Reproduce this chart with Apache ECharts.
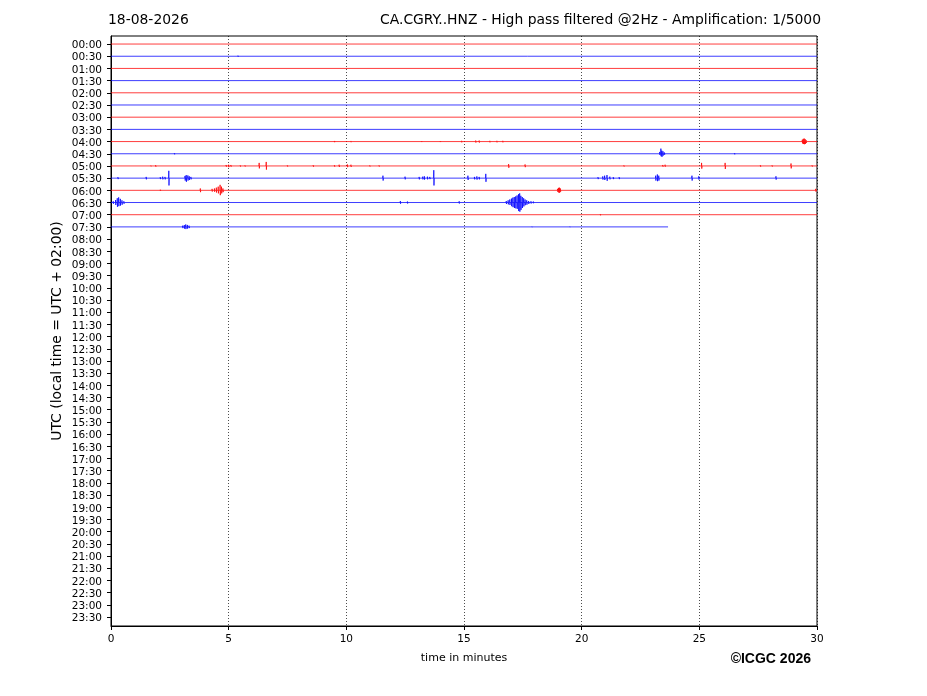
<!DOCTYPE html>
<html>
<head>
<meta charset="utf-8">
<script src="https://cdn.jsdelivr.net/npm/echarts@6/dist/echarts.min.js"></script>
<style>html,body{margin:0;padding:0;background:#fff}#c{width:927px;height:696px}</style>
</head>
<body>
<div id="c"></div>
<script>
const rowLabels = ['00:00','00:30','01:00','01:30','02:00','02:30','03:00','03:30','04:00','04:30','05:00','05:30','06:00','06:30','07:00','07:30','08:00','08:30','09:00','09:30','10:00','10:30','11:00','11:30','12:00','12:30','13:00','13:30','14:00','14:30','15:00','15:30','16:00','16:30','17:00','17:30','18:00','18:30','19:00','19:30','20:00','20:30','21:00','21:30','22:00','22:30','23:00','23:30'];
const xTicks = [0, 5, 10, 15, 20, 25, 30];
// rows that carry a trace (index into rowLabels) and where each trace ends (minutes)
const traceRows = [0,1,2,3,4,5,6,7,8,9,10,11,12,13,14,15];
const traceEnds = [30,30,30,30,30,30,30,30,30,30,30,30,30,30,30,23.67];
// spikes per row: [minute, amplitude up, amplitude down] in trace-height units (1 = one row)
const spikes0000 = [];
const spikes0030 = [[5.4,0.05,0.05]];
const spikes0100 = [];
const spikes0130 = [];
const spikes0200 = [];
const spikes0230 = [];
const spikes0300 = [];
const spikes0330 = [];
const spikes0400 = [[9.5,0.05,0.05],[10.2,0.05,0.05],[13.2,0.04,0.04],[14.0,0.04,0.04],[14.9,0.06,0.06],[15.5,0.08,0.08],[15.65,0.08,0.08],[16.1,0.06,0.06],[16.4,0.06,0.06],[16.65,0.06,0.06],[29.38,0.15,0.15],[29.42,0.22,0.2],[29.46,0.25,0.22],[29.5,0.2,0.2],[29.54,0.12,0.12]];
const spikes0430 = [[2.7,0.05,0.05],[23.32,0.15,0.1],[23.37,0.42,0.2],[23.41,0.25,0.25],[23.46,0.2,0.15],[23.52,0.1,0.08],[26.5,0.05,0.05]];
const spikes0500 = [[1.7,0.04,0.04],[1.9,0.06,0.06],[4.9,0.08,0.06],[5.0,0.1,0.1],[5.1,0.08,0.06],[5.5,0.05,0.05],[5.7,0.05,0.05],[6.3,0.25,0.2],[6.6,0.33,0.3],[7.5,0.05,0.05],[8.6,0.06,0.06],[9.5,0.06,0.06],[9.7,0.1,0.08],[10.05,0.12,0.1],[10.2,0.1,0.08],[11.0,0.05,0.05],[11.4,0.05,0.05],[16.9,0.15,0.15],[17.6,0.12,0.1],[21.8,0.05,0.05],[23.45,0.08,0.06],[23.55,0.1,0.06],[25.1,0.25,0.22],[26.1,0.25,0.25],[27.6,0.06,0.06],[28.1,0.05,0.05],[28.9,0.2,0.2],[29.8,0.05,0.05]];
const spikes0530 = [[0.3,0.08,0.08],[1.5,0.1,0.1],[2.1,0.08,0.08],[2.2,0.12,0.1],[2.3,0.1,0.1],[2.46,0.6,0.6],[3.15,0.18,0.2],[3.2,0.25,0.3],[3.27,0.22,0.2],[3.33,0.15,0.15],[3.4,0.1,0.1],[11.56,0.2,0.2],[12.5,0.12,0.1],[13.1,0.1,0.1],[13.25,0.12,0.1],[13.32,0.15,0.12],[13.45,0.12,0.1],[13.55,0.1,0.08],[13.72,0.65,0.6],[15.17,0.2,0.15],[15.45,0.1,0.1],[15.55,0.14,0.12],[15.65,0.1,0.1],[15.93,0.35,0.3],[20.7,0.08,0.08],[20.9,0.14,0.12],[20.98,0.2,0.15],[21.08,0.25,0.22],[21.2,0.12,0.1],[21.35,0.08,0.08],[21.6,0.08,0.08],[23.15,0.2,0.2],[23.22,0.3,0.25],[23.28,0.2,0.2],[24.69,0.2,0.2],[24.98,0.15,0.12],[28.26,0.15,0.12]];
const spikes0600 = [[2.1,0.05,0.05],[3.8,0.15,0.15],[4.3,0.12,0.1],[4.4,0.15,0.12],[4.48,0.22,0.18],[4.56,0.3,0.25],[4.64,0.45,0.4],[4.7,0.3,0.25],[4.76,0.15,0.15],[18.98,0.12,0.12],[19.02,0.2,0.18],[19.06,0.22,0.2],[19.1,0.15,0.12],[29.95,0.12,0.1]];
const spikes0630 = [[0.1,0.1,0.1],[0.2,0.2,0.2],[0.27,0.35,0.35],[0.33,0.42,0.3],[0.4,0.3,0.25],[0.47,0.18,0.18],[0.55,0.1,0.1],[12.3,0.12,0.1],[12.6,0.08,0.08],[14.8,0.1,0.08],[16.8,0.12,0.12],[16.88,0.18,0.15],[16.95,0.25,0.2],[17.02,0.32,0.3],[17.08,0.4,0.38],[17.14,0.45,0.45],[17.2,0.5,0.48],[17.26,0.58,0.52],[17.32,0.68,0.7],[17.37,0.75,0.75],[17.42,0.55,0.6],[17.48,0.45,0.45],[17.54,0.35,0.32],[17.6,0.25,0.22],[17.67,0.18,0.18],[17.75,0.12,0.12],[17.85,0.1,0.08],[17.95,0.08,0.06]];
const spikes0700 = [[20.8,0.05,0.05]];
const spikes0730 = [[3.05,0.1,0.1],[3.12,0.15,0.14],[3.18,0.2,0.18],[3.25,0.16,0.14],[3.32,0.1,0.1],[17.9,0.03,0.03],[19.5,0.03,0.03]];
const traceSpikes = [spikes0000,spikes0030,spikes0100,spikes0130,spikes0200,spikes0230,spikes0300,spikes0330,spikes0400,spikes0430,spikes0500,spikes0530,spikes0600,spikes0630,spikes0700,spikes0730];

function buildTrace(row, end, sp) {
  const d = [[0, row]];
  sp.forEach(function (s) {
    const t = s[0];
    d.push([t - 0.012, row]);
    d.push([t - 0.004, row - s[1]]);
    d.push([t + 0.004, row + s[2]]);
    d.push([t + 0.012, row]);
  });
  d.push([end, row]);
  return d;
}
const traces = traceRows.map(function (row, i) { return buildTrace(row, traceEnds[i], traceSpikes[i]); });
const traceColors = ['#ff0000', '#0000ff'];

const chart = echarts.init(document.getElementById('c'), null, { renderer: 'canvas' });
const yVals = rowLabels.map(function (_, i) { return i; });
chart.setOption({
  backgroundColor: '#ffffff',
  animation: false,
  textStyle: { fontFamily: 'DejaVu Sans' },
  grid: { left: 111, right: 110, top: 36, bottom: 70, show: true, borderColor: '#000', borderWidth: 1, backgroundColor: 'transparent' },
  xAxis: {
    type: 'value', min: 0, max: 30, interval: 5,
    name: 'time in minutes', nameLocation: 'middle', nameGap: 27,
    nameTextStyle: { fontSize: 11, color: '#000', fontFamily: 'DejaVu Sans' },
    axisLine: { show: true, onZero: false, lineStyle: { color: '#000', width: 1 } },
    axisTick: { show: true, length: 4, inside: false, lineStyle: { color: '#000' } },
    axisLabel: { color: '#000', fontSize: 10.5, margin: 8, fontFamily: 'DejaVu Sans',
      formatter: function (v) { return xTicks.indexOf(v) >= 0 ? String(v) : ''; } },
    splitLine: { show: true, lineStyle: { color: '#000', type: [1, 2], width: 0.7 } }
  },
  yAxis: {
    type: 'value', inverse: true, min: -0.66, max: 47.74,
    axisLine: { show: true, onZero: false, lineStyle: { color: '#000', width: 1 } },
    axisTick: { show: true, length: 4, inside: false, customValues: yVals, lineStyle: { color: '#000' } },
    axisLabel: { color: '#000', fontSize: 10.5, margin: 9, fontFamily: 'DejaVu Sans', customValues: yVals,
      formatter: function (v) { const k = Math.round(v); return rowLabels[k] ? '{a|' + rowLabels[k] + '}' : ''; },
      rich: { a: { fontSize: 10.5, fontFamily: 'DejaVu Sans', color: '#000', padding: [3, 0, 0, 0] } } },
    splitLine: { show: false }
  },
  graphic: [
    { type: 'text', left: 108, top: 13, style: { text: '18-08-2026', fontSize: 13.9, fontFamily: 'DejaVu Sans', fill: '#000' } },
    { type: 'text', right: 106, top: 13, style: { text: 'CA.CGRY..HNZ - High pass filtered @2Hz - Amplification: 1/5000', fontSize: 13.9, fontFamily: 'DejaVu Sans', fill: '#000' } },
    { type: 'text', x: 57, y: 331, rotation: Math.PI / 2, style: { text: 'UTC (local time = UTC + 02:00)', fontSize: 13.9, fontFamily: 'DejaVu Sans', fill: '#000', align: 'center', verticalAlign: 'middle' } },
    { type: 'text', right: 116, top: 652, style: { text: '\u00a9ICGC 2026', fontSize: 14, fontWeight: 'bold', fontFamily: 'Liberation Sans', fill: '#000' } }
  ],
  series: [{
    type: 'custom',
    animation: false,
    silent: true,
    data: traceRows.map(function (row, i) { return [0, row, traceEnds[i]]; }),
    encode: { x: [0, 2], y: 1 },
    renderItem: function (params, api) {
      const i = params.dataIndex;
      const pts = traces[i].map(function (p) { return api.coord(p); });
      return {
        type: 'polyline',
        shape: { points: pts },
        style: { stroke: traceColors[i % 2], lineWidth: 0.9, fill: null, opacity: 0.85, lineJoin: 'bevel' },
        z2: 3
      };
    }
  }]
});
</script>
</body>
</html>
